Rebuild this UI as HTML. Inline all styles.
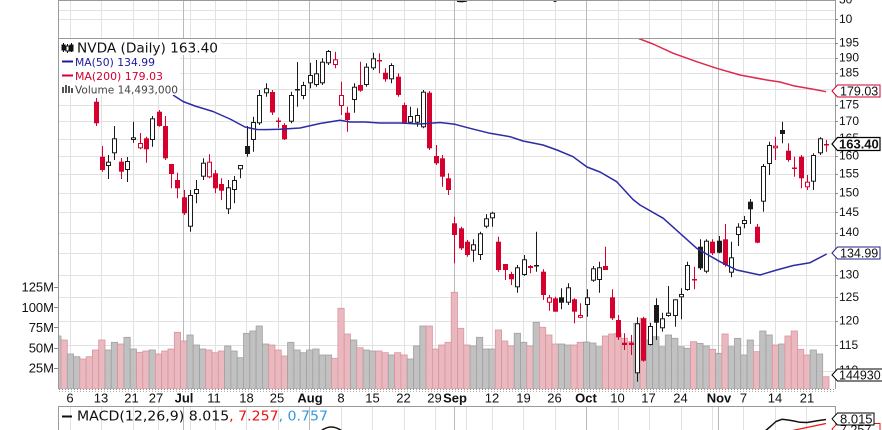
<!DOCTYPE html>
<html><head><meta charset="utf-8"><style>
html,body{margin:0;padding:0;background:#fff}
svg{display:block}
.ax{font-family:"Liberation Sans",Arial,sans-serif;font-size:12px;fill:#111}
.xl{font-family:"Liberation Sans",Arial,sans-serif;font-size:13px;fill:#111;text-anchor:middle}
.xb{font-weight:bold}
.lg{font-family:"DejaVu Sans","Liberation Sans",sans-serif}
line.k{stroke:#1a1a1a;stroke-width:1}
line.r{stroke:#d6002f;stroke-width:1}
rect.bh{fill:#fff;stroke:#1a1a1a;stroke-width:1}
rect.bf{fill:#1a1a1a}
rect.rh{fill:#fff;stroke:#d6002f;stroke-width:1}
rect.rf{fill:#d6002f}
rect.g{fill:#bebebe;stroke:#9c9c9c;stroke-width:0.8}
rect.p{fill:#e9b6bd;stroke:#da8e9a;stroke-width:0.8}
.gl{stroke:#e2e2e2;stroke-width:1}
.gm{stroke:#b9b9b9;stroke-width:1}
</style></head><body>
<svg width="882" height="430" viewBox="0 0 882 430" xmlns="http://www.w3.org/2000/svg">
<defs>
<clipPath id="cp"><rect x="59" y="39" width="776" height="350"/></clipPath>
<clipPath id="ct"><rect x="59" y="0" width="776" height="38"/></clipPath>
<clipPath id="cm"><rect x="59" y="407" width="776" height="23"/></clipPath>
</defs>
<rect width="882" height="430" fill="#fff"/>

<!-- horizontal grid: top panel -->
<g class="gl">
<line x1="59" y1="10.5" x2="835" y2="10.5"/>
<line x1="59" y1="19.5" x2="835" y2="19.5"/>
</g>
<!-- horizontal grid: price -->
<g class="gl">
<line x1="59" y1="43.5" x2="835" y2="43.5"/>
<line x1="59" y1="58.5" x2="835" y2="58.5"/>
<line x1="59" y1="73.5" x2="835" y2="73.5"/>
<line x1="59" y1="89.5" x2="835" y2="89.5"/>
<line x1="59" y1="105.5" x2="835" y2="105.5"/>
<line x1="59" y1="121.5" x2="835" y2="121.5"/>
<line x1="59" y1="139.5" x2="835" y2="139.5"/>
<line x1="59" y1="156.5" x2="835" y2="156.5"/>
<line x1="59" y1="174.5" x2="835" y2="174.5"/>
<line x1="59" y1="193.5" x2="835" y2="193.5"/>
<line x1="59" y1="212.5" x2="835" y2="212.5"/>
<line x1="59" y1="233.5" x2="835" y2="233.5"/>
<line x1="59" y1="253.5" x2="835" y2="253.5"/>
<line x1="59" y1="275.5" x2="835" y2="275.5"/>
<line x1="59" y1="297.5" x2="835" y2="297.5"/>
<line x1="59" y1="321.5" x2="835" y2="321.5"/>
<line x1="59" y1="345.5" x2="835" y2="345.5"/>
<line x1="59" y1="371.5" x2="835" y2="371.5"/>
</g>

<!-- vertical grid -->
<g class="gl">
<path d="M70.5 0V389M101.5 0V389M133.5 0V389M158.5 0V389M190.5 0V389M215.5 0V389M246.5 0V389M278.5 0V389M341.5 0V389M372.5 0V389M404.5 0V389M435.5 0V389M466.5 0V389M492.5 0V389M523.5 0V389M555.5 0V389M618.5 0V389M649.5 0V389M681.5 0V389M712.5 0V389M743.5 0V389M775.5 0V389M806.5 0V389"/>
<path d="M70.5 407V430M101.5 407V430M133.5 407V430M158.5 407V430M190.5 407V430M215.5 407V430M246.5 407V430M278.5 407V430M341.5 407V430M372.5 407V430M404.5 407V430M435.5 407V430M466.5 407V430M492.5 407V430M523.5 407V430M555.5 407V430M618.5 407V430M649.5 407V430M681.5 407V430M712.5 407V430M743.5 407V430M775.5 407V430M806.5 407V430"/>
</g>
<g class="gm">
<path d="M183.5 0V389M309.5 0V389M454.5 0V389M586.5 0V389M718.5 0V389"/>
<path d="M183.5 407V430M309.5 407V430M454.5 407V430M586.5 407V430M718.5 407V430"/>
</g>

<!-- top panel bits -->
<g clip-path="url(#ct)">
<path d="M457 1.2 L462 1.6 L467 0.8" stroke="#111" stroke-width="1.6" fill="none"/>
<path d="M553 0.3 L555 1.4 L557 0.3" stroke="#111" stroke-width="1.4" fill="none"/>
</g>

<!-- volume bars -->
<g clip-path="url(#cp)" opacity="0.95">
<rect class="g" x="54.7" y="336" width="6.3" height="53"/>
<rect class="p" x="61" y="340" width="6.3" height="49"/>
<rect class="g" x="67.3" y="354" width="6.3" height="35"/>
<rect class="g" x="73.6" y="356.7" width="6.3" height="32.3"/>
<rect class="p" x="79.8" y="359" width="6.3" height="30"/>
<rect class="p" x="86.1" y="356.7" width="6.3" height="32.3"/>
<rect class="p" x="92.4" y="350" width="6.3" height="39"/>
<rect class="p" x="98.7" y="340" width="6.3" height="49"/>
<rect class="g" x="105" y="350" width="6.3" height="39"/>
<rect class="g" x="111.3" y="342.3" width="6.3" height="46.7"/>
<rect class="p" x="117.6" y="344" width="6.3" height="45"/>
<rect class="g" x="123.9" y="337.3" width="6.3" height="51.7"/>
<rect class="g" x="130.2" y="349" width="6.3" height="40"/>
<rect class="p" x="136.5" y="352.3" width="6.3" height="36.7"/>
<rect class="p" x="142.8" y="351" width="6.3" height="38"/>
<rect class="g" x="149.1" y="350" width="6.3" height="39"/>
<rect class="p" x="155.4" y="354" width="6.3" height="35"/>
<rect class="p" x="161.7" y="351" width="6.3" height="38"/>
<rect class="p" x="168" y="349" width="6.3" height="40"/>
<rect class="p" x="174.3" y="332.3" width="6.3" height="56.7"/>
<rect class="p" x="180.6" y="341" width="6.3" height="48"/>
<rect class="g" x="186.9" y="335" width="6.3" height="54"/>
<rect class="g" x="193.2" y="345" width="6.3" height="44"/>
<rect class="g" x="199.5" y="349" width="6.3" height="40"/>
<rect class="p" x="205.7" y="350" width="6.3" height="39"/>
<rect class="p" x="212" y="352.7" width="6.3" height="36.3"/>
<rect class="p" x="218.3" y="351" width="6.3" height="38"/>
<rect class="g" x="224.6" y="346" width="6.3" height="43"/>
<rect class="g" x="230.9" y="351" width="6.3" height="38"/>
<rect class="g" x="237.2" y="357.7" width="6.3" height="31.3"/>
<rect class="g" x="243.5" y="333.3" width="6.3" height="55.7"/>
<rect class="g" x="249.8" y="331" width="6.3" height="58"/>
<rect class="g" x="256.1" y="326" width="6.3" height="63"/>
<rect class="g" x="262.4" y="344" width="6.3" height="45"/>
<rect class="p" x="268.7" y="345" width="6.3" height="44"/>
<rect class="p" x="275" y="350" width="6.3" height="39"/>
<rect class="p" x="281.3" y="356" width="6.3" height="33"/>
<rect class="g" x="287.6" y="342.3" width="6.3" height="46.7"/>
<rect class="g" x="293.9" y="350" width="6.3" height="39"/>
<rect class="g" x="300.2" y="352.7" width="6.3" height="36.3"/>
<rect class="g" x="306.5" y="350" width="6.3" height="39"/>
<rect class="g" x="312.8" y="349" width="6.3" height="40"/>
<rect class="g" x="319.1" y="355" width="6.3" height="34"/>
<rect class="g" x="325.4" y="355" width="6.3" height="34"/>
<rect class="p" x="331.6" y="358.3" width="6.3" height="30.7"/>
<rect class="p" x="337.9" y="308.3" width="6.3" height="80.7"/>
<rect class="p" x="344.2" y="334" width="6.3" height="55"/>
<rect class="g" x="350.5" y="340" width="6.3" height="49"/>
<rect class="p" x="356.8" y="347.7" width="6.3" height="41.3"/>
<rect class="g" x="363.1" y="350" width="6.3" height="39"/>
<rect class="g" x="369.4" y="351" width="6.3" height="38"/>
<rect class="p" x="375.7" y="351" width="6.3" height="38"/>
<rect class="p" x="382" y="352.7" width="6.3" height="36.3"/>
<rect class="g" x="388.3" y="355" width="6.3" height="34"/>
<rect class="p" x="394.6" y="352.7" width="6.3" height="36.3"/>
<rect class="p" x="400.9" y="355" width="6.3" height="34"/>
<rect class="g" x="407.2" y="359" width="6.3" height="30"/>
<rect class="g" x="413.5" y="346" width="6.3" height="43"/>
<rect class="g" x="419.8" y="326" width="6.3" height="63"/>
<rect class="p" x="426.1" y="326" width="6.3" height="63"/>
<rect class="p" x="432.4" y="349" width="6.3" height="40"/>
<rect class="p" x="438.7" y="345" width="6.3" height="44"/>
<rect class="p" x="445" y="342.3" width="6.3" height="46.7"/>
<rect class="p" x="451.2" y="292.3" width="6.3" height="96.7"/>
<rect class="p" x="457.5" y="328.3" width="6.3" height="60.7"/>
<rect class="p" x="463.8" y="345" width="6.3" height="44"/>
<rect class="g" x="470.1" y="346" width="6.3" height="43"/>
<rect class="g" x="476.4" y="337.3" width="6.3" height="51.7"/>
<rect class="g" x="482.7" y="349" width="6.3" height="40"/>
<rect class="g" x="489" y="349" width="6.3" height="40"/>
<rect class="p" x="495.3" y="330" width="6.3" height="59"/>
<rect class="p" x="501.6" y="341" width="6.3" height="48"/>
<rect class="p" x="507.9" y="346" width="6.3" height="43"/>
<rect class="g" x="514.2" y="333.3" width="6.3" height="55.7"/>
<rect class="g" x="520.5" y="342.3" width="6.3" height="46.7"/>
<rect class="p" x="526.8" y="346" width="6.3" height="43"/>
<rect class="g" x="533.1" y="322.3" width="6.3" height="66.7"/>
<rect class="p" x="539.4" y="327.3" width="6.3" height="61.7"/>
<rect class="p" x="545.7" y="335" width="6.3" height="54"/>
<rect class="p" x="552" y="344" width="6.3" height="45"/>
<rect class="g" x="558.3" y="344" width="6.3" height="45"/>
<rect class="g" x="564.6" y="345" width="6.3" height="44"/>
<rect class="p" x="570.9" y="345" width="6.3" height="44"/>
<rect class="p" x="577.2" y="342.3" width="6.3" height="46.7"/>
<rect class="g" x="583.4" y="342" width="6.3" height="47"/>
<rect class="g" x="589.7" y="343" width="6.3" height="46"/>
<rect class="g" x="596" y="346.7" width="6.3" height="42.3"/>
<rect class="p" x="602.3" y="336" width="6.3" height="53"/>
<rect class="p" x="608.6" y="334" width="6.3" height="55"/>
<rect class="p" x="614.9" y="333.3" width="6.3" height="55.7"/>
<rect class="p" x="621.2" y="338.3" width="6.3" height="50.7"/>
<rect class="p" x="627.5" y="341.7" width="6.3" height="47.3"/>
<rect class="g" x="633.8" y="323.3" width="6.3" height="65.7"/>
<rect class="p" x="640.1" y="318.3" width="6.3" height="70.7"/>
<rect class="g" x="646.4" y="340" width="6.3" height="49"/>
<rect class="g" x="652.7" y="336.7" width="6.3" height="52.3"/>
<rect class="g" x="659" y="346.7" width="6.3" height="42.3"/>
<rect class="g" x="665.3" y="335" width="6.3" height="54"/>
<rect class="g" x="671.6" y="338.3" width="6.3" height="50.7"/>
<rect class="g" x="677.9" y="346.7" width="6.3" height="42.3"/>
<rect class="g" x="684.2" y="348.3" width="6.3" height="40.7"/>
<rect class="p" x="690.5" y="341.7" width="6.3" height="47.3"/>
<rect class="g" x="696.8" y="343.3" width="6.3" height="45.7"/>
<rect class="g" x="703" y="346" width="6.3" height="43"/>
<rect class="p" x="709.3" y="349.3" width="6.3" height="39.7"/>
<rect class="g" x="715.6" y="353.3" width="6.3" height="35.7"/>
<rect class="p" x="721.9" y="334" width="6.3" height="55"/>
<rect class="g" x="728.2" y="346.7" width="6.3" height="42.3"/>
<rect class="g" x="734.5" y="338.3" width="6.3" height="50.7"/>
<rect class="g" x="740.8" y="355" width="6.3" height="34"/>
<rect class="g" x="747.1" y="340" width="6.3" height="49"/>
<rect class="p" x="753.4" y="351.7" width="6.3" height="37.3"/>
<rect class="g" x="759.7" y="331" width="6.3" height="58"/>
<rect class="g" x="766" y="335" width="6.3" height="54"/>
<rect class="p" x="772.3" y="345" width="6.3" height="44"/>
<rect class="g" x="778.6" y="344" width="6.3" height="45"/>
<rect class="p" x="784.9" y="336" width="6.3" height="53"/>
<rect class="p" x="791.2" y="331" width="6.3" height="58"/>
<rect class="p" x="797.5" y="349.3" width="6.3" height="39.7"/>
<rect class="p" x="803.8" y="355" width="6.3" height="34"/>
<rect class="g" x="810.1" y="350" width="6.3" height="39"/>
<rect class="g" x="816.4" y="354" width="6.3" height="35"/>
<rect class="p" x="822.7" y="376.7" width="6.3" height="12.3"/>
</g>

<!-- candles -->
<g clip-path="url(#cp)">
<line class="r" x1="96.5" y1="98" x2="96.5" y2="126"/><rect class="rf" x="94" y="101.7" width="5" height="21.6"/>
<line class="r" x1="102.5" y1="146" x2="102.5" y2="171.7"/><rect class="rf" x="100" y="156.7" width="5" height="13.3"/>
<line class="k" x1="108.5" y1="155" x2="108.5" y2="179"/><rect class="bh" x="106.5" y="162.2" width="4" height="3.3"/>
<line class="k" x1="114.5" y1="126" x2="114.5" y2="160"/><rect class="bh" x="112.5" y="138.8" width="4" height="14"/>
<line class="r" x1="121.5" y1="158" x2="121.5" y2="179"/><rect class="rf" x="119" y="161.7" width="5" height="10"/>
<line class="k" x1="127.5" y1="157" x2="127.5" y2="182"/><rect class="bh" x="125.5" y="161.5" width="4" height="8"/>
<line class="k" x1="133.5" y1="121.7" x2="133.5" y2="142.7"/><rect class="bh" x="131.5" y="137.8" width="4" height="1.7"/>
<line class="r" x1="140.5" y1="133" x2="140.5" y2="149.3"/><rect class="rh" x="138.5" y="143.5" width="4" height="4.3"/>
<line class="r" x1="146.5" y1="136.7" x2="146.5" y2="162.7"/><rect class="rf" x="144" y="138.3" width="5" height="11"/>
<line class="k" x1="152.5" y1="116" x2="152.5" y2="146.7"/><rect class="bh" x="150.5" y="118.8" width="4" height="20.7"/>
<line class="r" x1="159.5" y1="110" x2="159.5" y2="126.7"/><rect class="rf" x="157" y="111.7" width="5" height="14.3"/>
<line class="r" x1="165.5" y1="116" x2="165.5" y2="160"/><rect class="rf" x="163" y="126" width="5" height="32.3"/>
<line class="r" x1="171.5" y1="164" x2="171.5" y2="188.3"/><rect class="rf" x="169" y="164" width="5" height="10"/>
<line class="r" x1="177.5" y1="172.7" x2="177.5" y2="198.3"/><rect class="rf" x="175" y="180" width="5" height="8.3"/>
<line class="r" x1="184.5" y1="190" x2="184.5" y2="215"/><rect class="rf" x="182" y="197.3" width="5" height="16"/>
<line class="k" x1="190.5" y1="190" x2="190.5" y2="231.7"/><rect class="bh" x="188.5" y="195.5" width="4" height="30.7"/>
<line class="k" x1="196.5" y1="180" x2="196.5" y2="203.3"/><rect class="bh" x="194.5" y="189.5" width="4" height="4"/>
<line class="k" x1="203.5" y1="158.3" x2="203.5" y2="180"/><rect class="bh" x="201.5" y="163.2" width="4" height="13"/>
<line class="r" x1="209.5" y1="154.3" x2="209.5" y2="178.3"/><rect class="rh" x="207.5" y="162.2" width="4" height="14.6"/>
<line class="r" x1="215.5" y1="170" x2="215.5" y2="193.3"/><rect class="rf" x="213" y="173.3" width="5" height="15"/>
<line class="r" x1="221.5" y1="178.3" x2="221.5" y2="200"/><rect class="rf" x="219" y="184" width="5" height="6.7"/>
<line class="k" x1="228.5" y1="180" x2="228.5" y2="214"/><rect class="bh" x="226.5" y="187.8" width="4" height="21"/>
<line class="k" x1="234.5" y1="176" x2="234.5" y2="203.3"/><rect class="bh" x="232.5" y="180.5" width="4" height="9"/>
<line class="k" x1="240.5" y1="165" x2="240.5" y2="178.3"/><rect class="bh" x="238.5" y="165.5" width="4" height="3.3"/>
<line class="k" x1="247.5" y1="126" x2="247.5" y2="156.7"/><rect class="bf" x="245" y="146" width="5" height="8"/>
<line class="k" x1="253.5" y1="116.7" x2="253.5" y2="151.7"/><rect class="bh" x="251.5" y="122.5" width="4" height="17"/>
<line class="k" x1="259.5" y1="90" x2="259.5" y2="125"/><rect class="bh" x="257.5" y="95.5" width="4" height="27.3"/>
<line class="k" x1="266.5" y1="83.3" x2="266.5" y2="96.7"/><rect class="bh" x="264.5" y="88.8" width="4" height="4"/>
<line class="r" x1="272.5" y1="90" x2="272.5" y2="115"/><rect class="rf" x="270" y="92" width="5" height="20.5"/>
<line class="r" x1="278.5" y1="117.7" x2="278.5" y2="128.3"/><rect class="rf" x="276" y="120.5" width="5" height="1.5"/>
<line class="r" x1="284.5" y1="123.3" x2="284.5" y2="140"/><rect class="rf" x="282" y="125" width="5" height="14.3"/>
<line class="k" x1="291.5" y1="91.7" x2="291.5" y2="123.3"/><rect class="bh" x="289.5" y="95.5" width="4" height="25.7"/>
<line class="k" x1="297.5" y1="62" x2="297.5" y2="106.7"/><rect class="bf" x="295" y="89" width="5" height="1.5"/>
<line class="k" x1="303.5" y1="81.7" x2="303.5" y2="99.3"/><rect class="bh" x="301.5" y="85.5" width="4" height="10"/>
<line class="k" x1="310.5" y1="62.7" x2="310.5" y2="88.3"/><rect class="bh" x="308.5" y="75.5" width="4" height="7.3"/>
<line class="k" x1="316.5" y1="60" x2="316.5" y2="86.7"/><rect class="bh" x="314.5" y="73.8" width="4" height="10.7"/>
<line class="k" x1="322.5" y1="58.3" x2="322.5" y2="85"/><rect class="bh" x="320.5" y="62.2" width="4" height="20.6"/>
<line class="k" x1="328.5" y1="50" x2="328.5" y2="65"/><rect class="bh" x="326.5" y="51.5" width="4" height="11.3"/>
<line class="r" x1="335.5" y1="51.7" x2="335.5" y2="68.3"/><rect class="rh" x="333.5" y="59.8" width="4" height="4.7"/>
<line class="r" x1="341.5" y1="81.7" x2="341.5" y2="115"/><rect class="rh" x="339.5" y="95.5" width="4" height="10"/>
<line class="r" x1="347.5" y1="106.7" x2="347.5" y2="131.7"/><rect class="rf" x="345" y="112.7" width="5" height="7.3"/>
<line class="k" x1="354.5" y1="83.3" x2="354.5" y2="112.7"/><rect class="bh" x="352.5" y="87.2" width="4" height="12.3"/>
<line class="r" x1="360.5" y1="61.7" x2="360.5" y2="91.7"/><rect class="rf" x="358" y="85" width="5" height="5.7"/>
<line class="k" x1="366.5" y1="63.3" x2="366.5" y2="86.7"/><rect class="bh" x="364.5" y="67.2" width="4" height="17.3"/>
<line class="k" x1="373.5" y1="52.7" x2="373.5" y2="70"/><rect class="bh" x="371.5" y="58.8" width="4" height="9"/>
<line class="r" x1="379.5" y1="53.3" x2="379.5" y2="73.3"/><rect class="rf" x="377" y="60" width="5" height="1.5"/>
<line class="r" x1="385.5" y1="68.3" x2="385.5" y2="81.7"/><rect class="rf" x="383" y="72.7" width="5" height="6.6"/>
<line class="k" x1="391.5" y1="63.3" x2="391.5" y2="83.3"/><rect class="bh" x="389.5" y="65.5" width="4" height="13.3"/>
<line class="r" x1="398.5" y1="73.3" x2="398.5" y2="96.7"/><rect class="rf" x="396" y="76.7" width="5" height="18.3"/>
<line class="r" x1="404.5" y1="102.7" x2="404.5" y2="123.3"/><rect class="rf" x="402" y="105" width="5" height="17.7"/>
<line class="k" x1="410.5" y1="106.7" x2="410.5" y2="124"/><rect class="bh" x="408.5" y="116.5" width="4" height="5.7"/>
<line class="k" x1="417.5" y1="108.3" x2="417.5" y2="126.7"/><rect class="bh" x="415.5" y="115.5" width="4" height="6.7"/>
<line class="k" x1="423.5" y1="90" x2="423.5" y2="128.3"/><rect class="bh" x="421.5" y="92.2" width="4" height="34.6"/>
<line class="r" x1="429.5" y1="91" x2="429.5" y2="150"/><rect class="rf" x="427" y="92.7" width="5" height="55.6"/>
<line class="r" x1="436.5" y1="145" x2="436.5" y2="165"/><rect class="rf" x="434" y="156" width="5" height="7.3"/>
<line class="r" x1="442.5" y1="155" x2="442.5" y2="186.7"/><rect class="rf" x="440" y="158.3" width="5" height="18.4"/>
<line class="r" x1="448.5" y1="173.3" x2="448.5" y2="195"/><rect class="rf" x="446" y="178.3" width="5" height="11.7"/>
<line class="r" x1="454.5" y1="216.7" x2="454.5" y2="263.3"/><rect class="rf" x="452" y="223.3" width="5" height="11.7"/>
<line class="r" x1="461.5" y1="226.7" x2="461.5" y2="250"/><rect class="rf" x="459" y="228.3" width="5" height="20"/>
<line class="r" x1="467.5" y1="240" x2="467.5" y2="256.7"/><rect class="rf" x="465" y="241.7" width="5" height="13.3"/>
<line class="k" x1="473.5" y1="239.3" x2="473.5" y2="261.7"/><rect class="bh" x="471.5" y="244.8" width="4" height="5.4"/>
<line class="k" x1="480.5" y1="231.7" x2="480.5" y2="260"/><rect class="bh" x="478.5" y="233.8" width="4" height="20.7"/>
<line class="k" x1="486.5" y1="214" x2="486.5" y2="228.3"/><rect class="bh" x="484.5" y="218.8" width="4" height="7.4"/>
<line class="k" x1="492.5" y1="211.7" x2="492.5" y2="226.7"/><rect class="bh" x="490.5" y="213.2" width="4" height="4.6"/>
<line class="r" x1="498.5" y1="236.7" x2="498.5" y2="271.7"/><rect class="rf" x="496" y="241.7" width="5" height="28.3"/>
<line class="r" x1="505.5" y1="264" x2="505.5" y2="280"/><rect class="rf" x="503" y="264" width="5" height="6"/>
<line class="r" x1="511.5" y1="271.7" x2="511.5" y2="285"/><rect class="rf" x="509" y="274" width="5" height="5.3"/>
<line class="k" x1="517.5" y1="265" x2="517.5" y2="292.7"/><rect class="bh" x="515.5" y="267.8" width="4" height="19"/>
<line class="k" x1="524.5" y1="255" x2="524.5" y2="276"/><rect class="bh" x="522.5" y="259.8" width="4" height="14.7"/>
<line class="r" x1="530.5" y1="265" x2="530.5" y2="273.3"/><rect class="rf" x="528" y="266" width="5" height="2"/>
<line class="k" x1="536.5" y1="231.7" x2="536.5" y2="271.7"/><rect class="bf" x="534" y="265" width="5" height="1.5"/>
<line class="r" x1="543.5" y1="269.3" x2="543.5" y2="300"/><rect class="rf" x="541" y="271.7" width="5" height="23.3"/>
<line class="r" x1="549.5" y1="295" x2="549.5" y2="310.7"/><rect class="rh" x="547.5" y="297.8" width="4" height="4.4"/>
<line class="r" x1="555.5" y1="296.7" x2="555.5" y2="311.7"/><rect class="rf" x="553" y="298.3" width="5" height="13.4"/>
<line class="k" x1="561.5" y1="288.3" x2="561.5" y2="309.3"/><rect class="bf" x="559" y="297.3" width="5" height="5.4"/>
<line class="k" x1="568.5" y1="283.3" x2="568.5" y2="305"/><rect class="bh" x="566.5" y="287.8" width="4" height="14.4"/>
<line class="r" x1="574.5" y1="298.3" x2="574.5" y2="323.3"/><rect class="rf" x="572" y="299.3" width="5" height="12.4"/>
<line class="r" x1="580.5" y1="303.3" x2="580.5" y2="318.3"/><rect class="rh" x="578.5" y="315.5" width="4" height="1.8"/>
<line class="k" x1="587.5" y1="289.3" x2="587.5" y2="316.7"/><rect class="bh" x="585.5" y="297.8" width="4" height="6.7"/>
<line class="k" x1="593.5" y1="266" x2="593.5" y2="281.7"/><rect class="bh" x="591.5" y="268.8" width="4" height="11.4"/>
<line class="k" x1="599.5" y1="261.7" x2="599.5" y2="292.7"/><rect class="bh" x="597.5" y="267.8" width="4" height="11.7"/>
<line class="r" x1="605.5" y1="246.7" x2="605.5" y2="270"/><rect class="rf" x="603" y="266" width="5" height="4"/>
<line class="r" x1="612.5" y1="289.3" x2="612.5" y2="320"/><rect class="rf" x="610" y="297.3" width="5" height="21"/>
<line class="r" x1="618.5" y1="315" x2="618.5" y2="340"/><rect class="rf" x="616" y="320" width="5" height="17.3"/>
<line class="r" x1="624.5" y1="333.3" x2="624.5" y2="350"/><rect class="rf" x="622" y="342.7" width="5" height="2.3"/>
<line class="r" x1="631.5" y1="335" x2="631.5" y2="355"/><rect class="rf" x="629" y="342.7" width="5" height="2.3"/>
<line class="k" x1="637.5" y1="317.3" x2="637.5" y2="381.7"/><rect class="bh" x="635.5" y="323.8" width="4" height="49"/>
<line class="r" x1="643.5" y1="316.7" x2="643.5" y2="361.7"/><rect class="rf" x="641" y="318.3" width="5" height="42.4"/>
<line class="k" x1="650.5" y1="322.7" x2="650.5" y2="345.5"/><rect class="bh" x="648.5" y="326.5" width="4" height="18"/>
<line class="k" x1="656.5" y1="298.3" x2="656.5" y2="340"/><rect class="bf" x="654" y="305" width="5" height="17.7"/>
<line class="k" x1="662.5" y1="312.7" x2="662.5" y2="331.7"/><rect class="bh" x="660.5" y="318.8" width="4" height="9"/>
<line class="k" x1="668.5" y1="286" x2="668.5" y2="316.7"/><rect class="bh" x="666.5" y="313.2" width="4" height="2.3"/>
<line class="k" x1="675.5" y1="299.3" x2="675.5" y2="326.7"/><rect class="bh" x="673.5" y="299.8" width="4" height="15.7"/>
<line class="k" x1="681.5" y1="288.3" x2="681.5" y2="319.3"/><rect class="bh" x="679.5" y="294.5" width="4" height="2.3"/>
<line class="k" x1="687.5" y1="261.7" x2="687.5" y2="290.7"/><rect class="bh" x="685.5" y="265.5" width="4" height="24"/>
<line class="r" x1="694.5" y1="266.7" x2="694.5" y2="289.3"/><rect class="rf" x="692" y="279" width="5" height="1.5"/>
<line class="k" x1="700.5" y1="239.3" x2="700.5" y2="270"/><rect class="bf" x="698" y="246.7" width="5" height="21.6"/>
<line class="k" x1="706.5" y1="239.3" x2="706.5" y2="273.3"/><rect class="bh" x="704.5" y="241.2" width="4" height="30"/>
<line class="r" x1="712.5" y1="239.3" x2="712.5" y2="255"/><rect class="rf" x="710" y="241.7" width="5" height="11.6"/>
<line class="k" x1="719.5" y1="236" x2="719.5" y2="253.3"/><rect class="bf" x="717" y="240.7" width="5" height="12"/>
<line class="r" x1="725.5" y1="224" x2="725.5" y2="266.7"/><rect class="rf" x="723" y="239.3" width="5" height="25.7"/>
<line class="k" x1="731.5" y1="241.7" x2="731.5" y2="277.3"/><rect class="bh" x="729.5" y="257.8" width="4" height="14.4"/>
<line class="k" x1="738.5" y1="223.3" x2="738.5" y2="246"/><rect class="bh" x="736.5" y="227.2" width="4" height="7.3"/>
<line class="k" x1="744.5" y1="216" x2="744.5" y2="228.3"/><rect class="bh" x="742.5" y="220.5" width="4" height="3"/>
<line class="k" x1="750.5" y1="199" x2="750.5" y2="224"/><rect class="bf" x="748" y="201.7" width="5" height="7.6"/>
<line class="r" x1="757.5" y1="224" x2="757.5" y2="243.3"/><rect class="rf" x="755" y="226.7" width="5" height="16"/>
<line class="k" x1="763.5" y1="164" x2="763.5" y2="211.7"/><rect class="bh" x="761.5" y="166.5" width="4" height="34.7"/>
<line class="k" x1="769.5" y1="141.7" x2="769.5" y2="175"/><rect class="bh" x="767.5" y="145.5" width="4" height="18"/>
<line class="r" x1="775.5" y1="136.7" x2="775.5" y2="160"/><rect class="rh" x="773.5" y="146.2" width="4" height="1.6"/>
<line class="k" x1="782.5" y1="121.7" x2="782.5" y2="143.3"/><rect class="bf" x="780" y="130" width="5" height="4"/>
<line class="r" x1="788.5" y1="143.3" x2="788.5" y2="161.7"/><rect class="rf" x="786" y="150.7" width="5" height="9.3"/>
<line class="r" x1="794.5" y1="156.7" x2="794.5" y2="176.7"/><rect class="rf" x="792" y="167.5" width="5" height="1.5"/>
<line class="r" x1="801.5" y1="155" x2="801.5" y2="188.3"/><rect class="rf" x="799" y="156.7" width="5" height="21.6"/>
<line class="r" x1="807.5" y1="175" x2="807.5" y2="190"/><rect class="rh" x="805.5" y="182.2" width="4" height="4.6"/>
<line class="k" x1="813.5" y1="153.3" x2="813.5" y2="190"/><rect class="bh" x="811.5" y="155.5" width="4" height="25.7"/>
<line class="k" x1="820.5" y1="137.3" x2="820.5" y2="155"/><rect class="bh" x="818.5" y="138.8" width="4" height="14"/>
<line class="r" x1="826.5" y1="140" x2="826.5" y2="151.7"/><rect class="rf" x="824" y="144" width="5" height="1.5"/>
</g>

<!-- moving averages -->
<g clip-path="url(#cp)" fill="none" stroke-linejoin="round">
<polyline stroke="#2b2ba6" stroke-width="1.5" points="173,95 183,101.5 195,106 213,111.5 230,119 245,127 257,129.5 265,129.6 280,129.3 300,128 320,123.5 340,120.3 350,122 365,122 380,123 400,123 420,124 440,122.5 455,124.3 470,128.3 490,133.3 510,136.7 523,141 543,145 557,150 573,156.7 587,167 600,172 616.7,181.7 633,199.5 640,205 663.3,218.3 696.7,248.3 720,261.7 736.7,270 760,275 776.7,270 793.3,265.5 810,262.7 826.7,254"/>
<polyline stroke="#e0284a" stroke-width="1.5" points="636,37.5 653,44 673.3,53.3 696.7,61.7 716.7,68.3 740,75 766.7,80 780,82 793.3,85.7 813.3,89.3 826,91.7"/>
</g>

<!-- MACD lines -->
<g clip-path="url(#cm)" fill="none" stroke-linejoin="round">
<path d="M321 431 Q331 423 342 431" stroke="#111" stroke-width="1.5"/>
<polyline stroke="#111" stroke-width="1.5" points="764,432 771,426 776,421.5 782,419.3 788,420 794,421 800,422.3 807,422.5 813,421.5 819,420.5 826,419.5"/>
<polyline stroke="#ee1111" stroke-width="1.2" points="790,431 826,423.5"/>
</g>

<!-- legend -->
<rect x="59" y="39" width="162" height="16" fill="#fff"/>
<rect x="59" y="54" width="121" height="41" fill="#fff"/>
<g stroke="#111" stroke-width="1">
<line x1="63.5" y1="43" x2="63.5" y2="52"/><rect x="62" y="45" width="3" height="5" fill="#111"/>
<line x1="67.5" y1="44" x2="67.5" y2="53"/><rect x="66" y="46" width="3" height="5" fill="#fff"/>
<line x1="71.5" y1="43" x2="71.5" y2="52"/><rect x="70" y="45" width="3" height="6" fill="#111"/>
</g>
<text class="lg" x="77" y="52.5" font-size="13.5" fill="#111" textLength="141" lengthAdjust="spacingAndGlyphs">NVDA (Daily) 163.40</text>
<line x1="62" y1="61.5" x2="73" y2="61.5" stroke="#1c1c9c" stroke-width="2"/>
<text class="lg" x="75" y="66" font-size="11" fill="#1c1c9c" textLength="80" lengthAdjust="spacingAndGlyphs">MA(50) 134.99</text>
<line x1="62" y1="75.5" x2="73" y2="75.5" stroke="#d6002f" stroke-width="2"/>
<text class="lg" x="75" y="80" font-size="11" fill="#d6002f" textLength="88" lengthAdjust="spacingAndGlyphs">MA(200) 179.03</text>
<g fill="#555">
<rect x="62" y="87" width="2" height="6"/><rect x="65" y="85" width="2" height="8"/><rect x="68" y="86" width="2" height="7"/><rect x="71" y="88" width="2" height="5"/>
</g>
<text class="lg" x="75" y="93.3" font-size="11" fill="#444" textLength="103" lengthAdjust="spacingAndGlyphs">Volume 14,493,000</text>

<line x1="62" y1="416.5" x2="72" y2="416.5" stroke="#111" stroke-width="2"/>
<text class="lg" x="77" y="420.7" font-size="13.5" fill="#111" textLength="251" lengthAdjust="spacingAndGlyphs">MACD(12,26,9) 8.015<tspan fill="#ee1111">, 7.257</tspan><tspan fill="#3399dd">, 0.757</tspan></text>

<!-- frames -->
<g stroke="#9a9a9a" stroke-width="1" fill="none">
<line x1="58.5" y1="0" x2="58.5" y2="389"/>
<line x1="835.5" y1="0" x2="835.5" y2="389"/>
<line x1="58.5" y1="406" x2="58.5" y2="430"/>
<line x1="835.5" y1="406" x2="835.5" y2="430"/>
<line x1="58" y1="0.5" x2="836" y2="0.5"/>
<line x1="58" y1="38.5" x2="836" y2="38.5"/>
<line x1="58" y1="406.5" x2="836" y2="406.5"/>
</g>
<line x1="59" y1="389.5" x2="835" y2="389.5" stroke="#8a8a8a" stroke-width="1" stroke-dasharray="1 2"/>
<line x1="59" y1="391.5" x2="835" y2="391.5" stroke="#b0b0b0" stroke-width="1" stroke-dasharray="1 2"/>

<!-- right axis ticks -->
<path d="M835 43.5h3M835 58.5h3M835 73.5h3M835 105.5h3M835 121.5h3M835 156.5h3M835 174.5h3M835 193.5h3M835 212.5h3M835 233.5h3M835 275.5h3M835 297.5h3M835 321.5h3M835 345.5h3M835 19.5h3" stroke="#888" stroke-width="1"/>
<!-- left axis ticks -->
<path d="M54 287.5h4M54 307.5h4M54 327.5h4M54 348.5h4M54 368.5h4" stroke="#888" stroke-width="1"/>

<!-- right axis labels -->
<g class="ax">
<text x="839" y="3.5">30</text>
<text x="839" y="23">10</text>
<text x="839" y="46.5">195</text>
<text x="839" y="61.5">190</text>
<text x="839" y="76.5">185</text>
<text x="839" y="108.5">175</text>
<text x="839" y="125">170</text>
<text x="839" y="142">165</text>
<text x="839" y="159.5">160</text>
<text x="839" y="177.5">155</text>
<text x="839" y="196.5">150</text>
<text x="839" y="216">145</text>
<text x="839" y="236">140</text>
<text x="839" y="278.5">130</text>
<text x="839" y="301">125</text>
<text x="839" y="324.5">120</text>
<text x="839" y="349">115</text>
<text x="839" y="374">110</text>
</g>

<!-- left axis labels -->
<g class="ax" style="font-size:13px;text-anchor:end">
<text x="54" y="291.5">125M</text>
<text x="54" y="312">100M</text>
<text x="54" y="332">75M</text>
<text x="54" y="352.7">50M</text>
<text x="54" y="372.7">25M</text>
</g>

<!-- x labels -->
<g class="xl">
<text x="70" y="402.6">6</text>
<text x="101" y="402.6">13</text>
<text x="131.5" y="402.6">21</text>
<text x="156" y="402.6">27</text>
<text x="184" y="402.6" class="xb">Jul</text>
<text x="214" y="402.6">11</text>
<text x="246.5" y="402.6">18</text>
<text x="277" y="402.6">25</text>
<text x="310" y="402.6" class="xb">Aug</text>
<text x="341" y="402.6">8</text>
<text x="372.5" y="402.6">15</text>
<text x="403.5" y="402.6">22</text>
<text x="434.5" y="402.6">29</text>
<text x="455" y="402.6" class="xb">Sep</text>
<text x="492" y="402.6">12</text>
<text x="523.5" y="402.6">19</text>
<text x="554.5" y="402.6">26</text>
<text x="586" y="402.6" class="xb">Oct</text>
<text x="617.5" y="402.6">10</text>
<text x="648.5" y="402.6">17</text>
<text x="680.5" y="402.6">24</text>
<text x="719" y="402.6" class="xb">Nov</text>
<text x="743.5" y="402.6">7</text>
<text x="775" y="402.6">14</text>
<text x="807" y="402.6">21</text>
</g>

<!-- tags -->
<g class="ax">
<polygon points="832,91 837.5,85 880,85 880,97 837.5,97" fill="#fff" stroke="#d6002f" stroke-width="1"/>
<text x="840" y="95.5" style="font-size:12.5px">179.03</text>
<polygon points="832,144 837.5,137.5 880,137.5 880,150.5 837.5,150.5" fill="#fff" stroke="#000" stroke-width="1.2"/>
<text x="839" y="148.7" style="font-size:13px;font-weight:bold">163.40</text>
<polygon points="832,253 837.5,247 880,247 880,259 837.5,259" fill="#fff" stroke="#22228f" stroke-width="1"/>
<text x="840" y="257.5" style="font-size:12.5px">134.99</text>
<polygon points="832,375 837.5,369 886,369 886,381 837.5,381" fill="#fff" stroke="#000" stroke-width="1"/>
<text x="839" y="379.5" style="font-size:12.5px">144930</text>
<polygon points="832,429 837.5,423.5 880,423.5 880,436 837.5,436" fill="#fff" stroke="#ee1111" stroke-width="1"/>
<text x="840" y="434" style="font-size:12.5px">7.257</text>
<polygon points="832,418.8 837.5,413 874,413 874,425 837.5,425" fill="#fff" stroke="#000" stroke-width="1"/>
<text x="840" y="423.3" style="font-size:13px">8.015</text>
</g>
</svg>
</body></html>
